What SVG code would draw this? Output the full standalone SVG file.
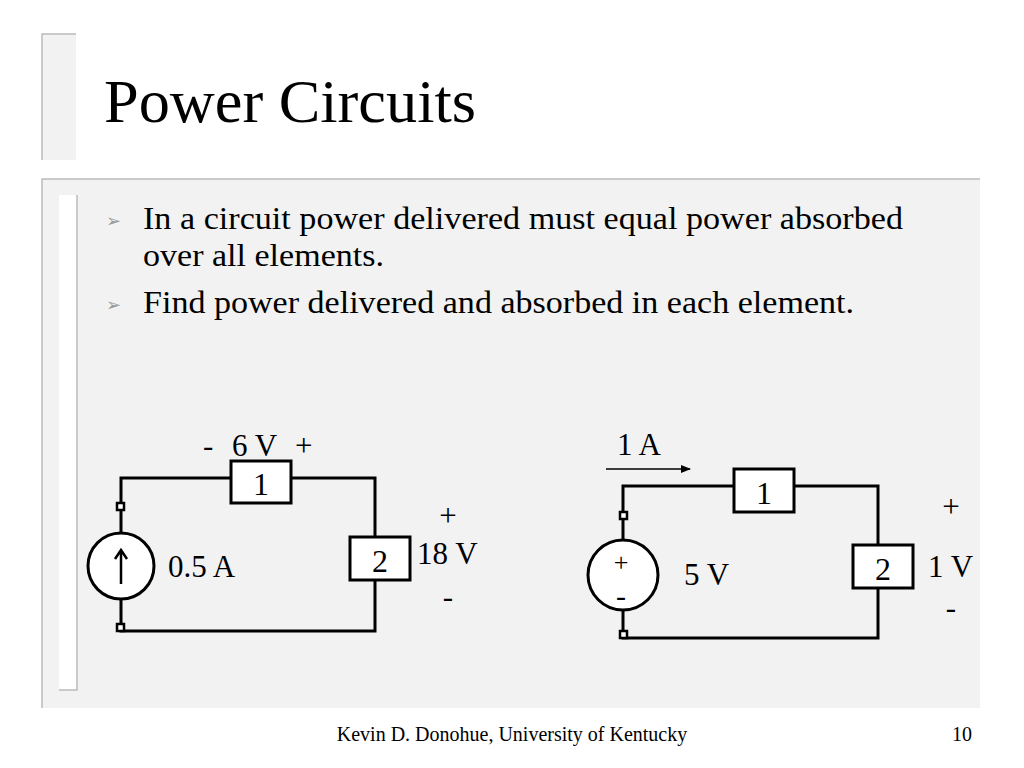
<svg xmlns="http://www.w3.org/2000/svg" width="1024" height="768" viewBox="0 0 1024 768">
<style>
.t{font-family:"Liberation Serif",serif;fill:#000}
.w{fill:none;stroke:#000;stroke-width:3}
.b{fill:#fff;stroke:#000;stroke-width:3}
.term{fill:#fff;stroke:#000;stroke-width:2.5}
.l{font-size:31px}
.n{font-size:32px}
</style>
<defs><marker id="ah" markerWidth="10" markerHeight="8" refX="9" refY="4" orient="auto" markerUnits="userSpaceOnUse"><path d="M0,0L10,4L0,8z" fill="#000"/></marker></defs>
<rect width="1024" height="768" fill="#fff"/>
<rect x="42" y="34" width="34" height="126" fill="#f2f2f2"/>
<path d="M42,160V34H76" fill="none" stroke="#bbb" stroke-width="1.5"/>
<rect x="42" y="179" width="938" height="529" fill="#f2f2f2"/>
<path d="M42,708V179H980" fill="none" stroke="#bbb" stroke-width="1.5"/>
<rect x="59" y="195" width="18" height="495" fill="#fff"/>
<path d="M77,195V690H59" fill="none" stroke="#bbb" stroke-width="1.5"/>
<text class="t" x="104" y="122" font-size="61" textLength="372" lengthAdjust="spacingAndGlyphs">Power Circuits</text>
<text x="106" y="227" font-size="18" fill="#999" font-family="DejaVu Sans,sans-serif">➢</text>
<text class="t" x="143" y="229" font-size="32" textLength="760" lengthAdjust="spacingAndGlyphs">In a circuit power delivered must equal power absorbed</text>
<text class="t" x="143" y="266" font-size="32" textLength="241" lengthAdjust="spacingAndGlyphs">over all elements.</text>
<text x="106" y="311" font-size="18" fill="#999" font-family="DejaVu Sans,sans-serif">➢</text>
<text class="t" x="143" y="313" font-size="32" textLength="711" lengthAdjust="spacingAndGlyphs">Find power delivered and absorbed in each element.</text>
<g id="connectors">
<path class="w" d="M121,566V478H375V631H121Z"/>
<path class="w" d="M623,575V486H878V638H623Z"/>
<line x1="606" y1="469" x2="690" y2="469" stroke="#000" stroke-width="1.5" marker-end="url(#ah)"/>
</g>
<g id="src1"><circle class="b" cx="121" cy="566" r="33"/><path d="M121,584V552M115,559L121,550L127,559" fill="none" stroke="#000" stroke-width="2.5"/>
<rect class="term" x="117" y="503" width="7" height="7"/><rect class="term" x="117" y="624" width="7" height="7"/>
<text class="t l" x="168" y="577">0.5 A</text></g>
<g id="e1a"><rect class="b" x="231" y="461" width="60" height="42"/><text class="t n" x="261" y="495" text-anchor="middle">1</text>
<text class="t l" x="203" y="456">-</text><text class="t l" x="232" y="456">6 V</text><text class="t l" x="295" y="456">+</text></g>
<g id="e2a"><rect class="b" x="350" y="537" width="60" height="43"/><text class="t n" x="380" y="572" text-anchor="middle">2</text>
<text class="t l" x="448" y="526" text-anchor="middle">+</text><text class="t l" x="417" y="564">18 V</text><text class="t l" x="448" y="607" text-anchor="middle">-</text></g>
<g id="src2"><circle class="b" cx="623" cy="575" r="35"/>
<text class="t" x="621" y="571" font-size="26" text-anchor="middle">+</text><text class="t" x="621" y="606" font-size="30" text-anchor="middle">-</text>
<rect class="term" x="620" y="512" width="7" height="7"/><rect class="term" x="620" y="631" width="7" height="7"/>
<text class="t l" x="684" y="585">5 V</text></g>
<g id="i1"><text class="t l" x="617" y="455">1 A</text></g>
<g id="e1b"><rect class="b" x="734" y="469" width="60" height="43"/><text class="t n" x="764" y="504" text-anchor="middle">1</text></g>
<g id="e2b"><rect class="b" x="853" y="545" width="60" height="43"/><text class="t n" x="883" y="580" text-anchor="middle">2</text>
<text class="t l" x="951" y="517" text-anchor="middle">+</text><text class="t l" x="928" y="577">1 V</text><text class="t l" x="951" y="618" text-anchor="middle">-</text></g>
<text class="t" x="512" y="741" font-size="20" text-anchor="middle">Kevin D. Donohue, University of Kentucky</text>
<text class="t" x="972" y="741" font-size="20" text-anchor="end">10</text>
</svg>
